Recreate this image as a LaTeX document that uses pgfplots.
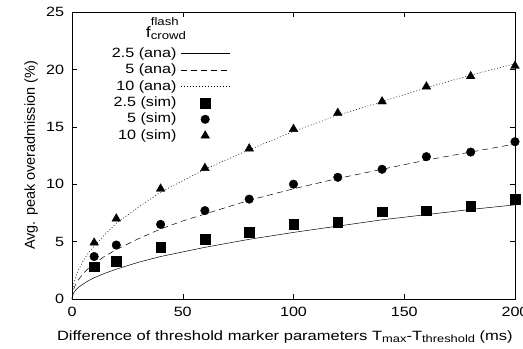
\documentclass[border=0pt]{standalone}
\usepackage{pgfplots}
\pgfplotsset{compat=1.18}
\usepackage{fontspec}
\setmainfont{Liberation Sans}
\newcommand{\fs}{\fontsize{13.5}{15}\selectfont}
\newcommand{\lsub}[1]{\raisebox{-0.35ex}{\fontsize{10.5}{12}\selectfont #1}}
\newcommand{\tsub}[1]{\raisebox{-0.3ex}{\fontsize{11}{12}\selectfont #1}}
\newcommand{\tsup}[1]{\raisebox{1.45ex}{\fontsize{11}{12}\selectfont #1}}
\pgfplotsset{
  lineleg/.style={legend image code/.code={\draw[##1] (0bp,0bp) -- (49bp,0bp);}},
  markleg/.style={legend image code/.code={\draw[##1,mark repeat=2,mark phase=2] plot coordinates {(0bp,0bp) (24.5bp,0bp) (49bp,0bp)};}},
}
\begin{document}
\fs
\begin{tikzpicture}
\begin{axis}[
  scale only axis,
  width=443bp, height=287bp,
  xmin=0, xmax=200, ymin=0, ymax=25,
  xtick={0,50,...,200}, ytick={0,5,...,25},
  tick align=inside,
  tick style={black, thin},
  major tick length=5bp,
  axis line style={black, thin},
  /pgf/number format/assume math mode=true,
  ticklabel style={font=\fs, xscale=1.2},
  xticklabel style={yshift=-3bp},
  yticklabel style={xshift=-2bp},
  xlabel={Difference of threshold marker parameters T\lsub{max}-T\lsub{threshold} (ms)},
  xlabel style={font=\fs, xscale=1.23, yshift=-5bp, xshift=-7bp},
  ylabel={Avg. peak overadmission (\%)},
  ylabel style={font=\fontsize{14.5}{16}\selectfont, yshift=-2bp},
  legend style={draw=none, fill=none, at={(0.357,0.878)}, anchor=north east,
    inner sep=0pt, row sep=3.4bp, column sep=4bp,
    nodes={font=\fs, xscale=1.2, inner sep=0pt, text height=10bp, text depth=3bp}},
  legend cell align=right,
  legend plot pos=right,
]
\addplot[black, line width=0.5pt, lineleg] coordinates {
(0,0) (0.5,0.42) (1,0.6) (2,0.85) (3,1.03) (5,1.3) (7,1.55) (10,1.85) (15,2.25) (20,2.6) (30,3.2) (40,3.7) (50,4.1) (60,4.5) (80,5.2) (100,5.8) (120,6.35) (140,6.9) (160,7.35) (180,7.8) (200,8.2)};
\addlegendentry{2.5 (ana)}
\addplot[black, line width=0.5pt, dash pattern=on 6bp off 4bp, lineleg] coordinates {
(0,0) (0.5,0.7) (1,1.0) (2,1.4) (3,1.7) (5,2.2) (7,2.6) (10,3.1) (15,3.75) (20,4.3) (30,5.25) (40,6.1) (50,6.8) (60,7.4) (80,8.6) (100,9.6) (120,10.5) (140,11.3) (160,12.1) (180,12.8) (200,13.5)};
\addlegendentry{5 (ana)}
\addplot[black, line width=0.5pt, dash pattern=on 1bp off 2bp, lineleg] coordinates {
(0,0) (0.5,1.05) (1,1.5) (2,2.1) (3,2.55) (5,3.3) (7,3.9) (10,4.6) (15,5.65) (20,6.6) (30,8.0) (40,9.3) (50,10.3) (60,11.3) (80,13.0) (100,14.6) (120,16.0) (140,17.2) (160,18.4) (180,19.5) (200,20.5)};
\addlegendentry{10 (ana)}
\addplot[black, only marks, mark=square*, mark size=4.8bp, markleg] coordinates {
(10,2.8) (20,3.3) (40,4.5) (60,5.2) (80,5.8) (100,6.5) (120,6.7) (140,7.6) (160,7.7) (180,8.1) (200,8.7)};
\addlegendentry{2.5 (sim)}
\addplot[black, only marks, mark=*, mark size=4.3bp, markleg] coordinates {
(10,3.7) (20,4.7) (40,6.5) (60,7.7) (80,8.7) (100,10.0) (120,10.6) (140,11.3) (160,12.4) (180,12.8) (200,13.7)};
\addlegendentry{5 (sim)}
\addplot[black, only marks, mark=triangle*, mark size=5bp, markleg] coordinates {
(10,4.9) (20,7.0) (40,9.6) (60,11.4) (80,13.1) (100,14.8) (120,16.2) (140,17.2) (160,18.5) (180,19.4) (200,20.3)};
\addlegendentry{10 (sim)}
\node[anchor=center, font=\fontsize{15}{16}\selectfont, xscale=1.2] at (rel axis cs:0.212,0.941) {f\rlap{\tsup{flash}}\tsub{crowd}};
\end{axis}
\pgfresetboundingbox
\path (-72bp,-50bp) rectangle (451bp,299bp);
\end{tikzpicture}
\end{document}
